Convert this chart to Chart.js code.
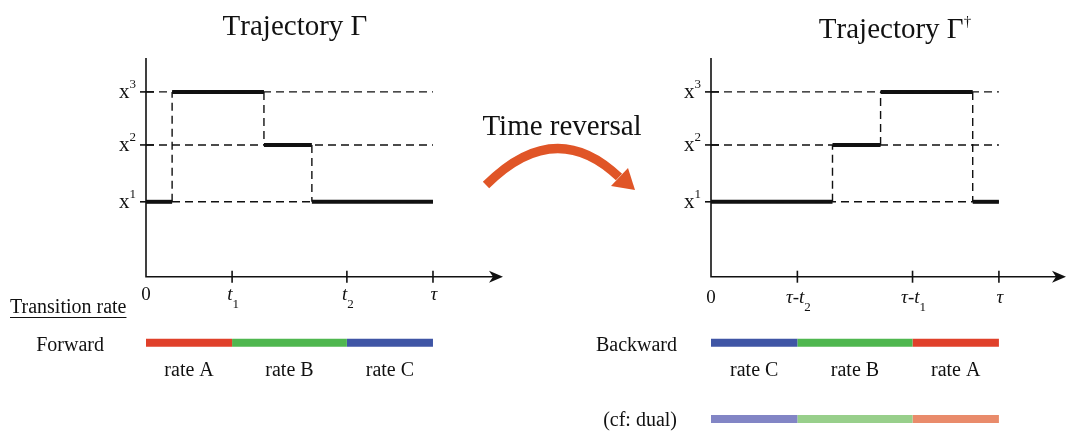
<!DOCTYPE html>
<html>
<head>
<meta charset="utf-8">
<script src="https://cdn.jsdelivr.net/npm/chart.js@4"></script>
<style>
  body { margin: 0; background: #fff; width: 1066px; height: 432px; overflow: hidden; position: relative; }
  canvas { position: absolute; top: 0; }
  #left { left: 0; }
  #right { left: 580px; }
</style>
</head>
<body>
<canvas id="left" width="660" height="432"></canvas>
<canvas id="right" width="486" height="432"></canvas>
<script>
// time runs 0..tau, tau taken as 10
var tau = 10;
var stateNames = ['x^1', 'x^2', 'x^3'];
var stateLevels = [1.37, 2.41, 3.38];

var forwardJumps = [0, 0.91, 4.11, 5.78, 10];
var forwardStates = [0, 2, 1, 0];
var backwardJumps = [0, 4.22, 5.89, 9.09, 10];
var backwardStates = [0, 1, 2, 0];

var forwardTicks = [0, 3, 7, 10];
var forwardTickLabels = ['0', 't_1', 't_2', 'τ'];
var backwardTicks = [0, 3, 7, 10];
var backwardTickLabels = ['0', 'τ-t_2', 'τ-t_1', 'τ'];

var forwardBounds = [0, 3, 7, 10];
var forwardRates = ['rate A', 'rate B', 'rate C'];
var forwardColors = ['#e0402a', '#4fb74f', '#3f55a5'];
var backwardBounds = [0, 3, 7, 10];
var backwardRates = ['rate C', 'rate B', 'rate A'];
var backwardColors = ['#3f55a5', '#4fb74f', '#e0402a'];
var dualColors = ['#8285c5', '#98cf8b', '#e98b6b'];

var SERIF = '"Liberation Serif", "Times New Roman", serif';
var RATE_ROW = -1.21;
var DUAL_ROW = -2.60;
var DASH = [8, 5];

// thick horizontal pieces + dashed vertical jumps
function trajSets(jumps, states) {
  var sets = [];
  for (var i = 0; i < states.length; i++) {
    var L = stateLevels[states[i]];
    sets.push({data: [{x: jumps[i], y: L}, {x: jumps[i + 1], y: L}],
      borderColor: '#111', borderWidth: 4, borderCapStyle: 'butt', pointRadius: 0});
    if (i > 0) {
      sets.push({data: [{x: jumps[i], y: stateLevels[states[i - 1]]}, {x: jumps[i], y: L}],
        borderColor: '#111', borderWidth: 1.4, borderDash: DASH, pointRadius: 0});
    }
  }
  return sets;
}

function barSets(bounds, colors, row) {
  return colors.map(function (c, i) {
    return {data: [{x: bounds[i], y: row}, {x: bounds[i + 1], y: row}],
      borderColor: c, borderWidth: 8, borderCapStyle: 'butt', pointRadius: 0};
  });
}

// small math text: _c subscript, ^c superscript, t/τ italic
function drawMath(ctx, s, x, y, size, align, italic, supScale, supRise) {
  var runs = [];
  for (var i = 0; i < s.length; i++) {
    var c = s[i];
    if (c === '_') { runs.push({t: s[++i], k: 'sub'}); continue; }
    if (c === '^') { runs.push({t: s[++i], k: 'sup'}); continue; }
    runs.push({t: c, k: (italic && /[tτ]/.test(c)) ? 'it' : 'rm'});
  }
  function font(r) {
    var sz = (r.k === 'sub' || r.k === 'sup') ? Math.round(size * (supScale || 0.68)) : size;
    return (r.k === 'it' ? 'italic ' : '') + sz + 'px ' + SERIF;
  }
  var w = 0;
  runs.forEach(function (r) { ctx.font = font(r); r.w = ctx.measureText(r.t).width; w += r.w; });
  var cx = align === 'center' ? x - w / 2 : (align === 'right' ? x - w : x);
  ctx.textAlign = 'left';
  runs.forEach(function (r) {
    ctx.font = font(r);
    var dy = r.k === 'sub' ? size * 0.42 : (r.k === 'sup' ? -size * (supRise || 0.45) : 0);
    ctx.fillText(r.t, cx, y + dy);
    cx += r.w;
  });
}

function makeChart(id, o) {
  var datasets = stateLevels.map(function (L) {
    return {data: [{x: 0, y: L}, {x: tau, y: L}], borderColor: '#111', borderWidth: 1.4,
      borderDash: DASH, pointRadius: 0};
  });
  datasets = datasets.concat(trajSets(o.jumps, o.states));
  datasets = datasets.concat(barSets(o.bounds, o.colors, RATE_ROW));
  if (o.dual) datasets = datasets.concat(barSets(o.bounds, o.dual, DUAL_ROW));

  var deco = {
    id: 'deco',
    afterDatasetsDraw: function (chart) {
      var ctx = chart.ctx, xs = chart.scales.x, ys = chart.scales.y;
      var x0 = xs.getPixelForValue(0), y0 = ys.getPixelForValue(0);
      var yTop = chart.chartArea.top, xEnd = chart.chartArea.right;
      ctx.save();
      ctx.strokeStyle = '#111'; ctx.fillStyle = '#111'; ctx.lineWidth = 1.6;
      // axes
      ctx.beginPath();
      ctx.moveTo(x0, yTop); ctx.lineTo(x0, y0); ctx.lineTo(xEnd - 10, y0);
      ctx.stroke();
      ctx.beginPath();
      ctx.moveTo(xEnd, y0); ctx.lineTo(xEnd - 14, y0 - 6); ctx.lineTo(xEnd - 10, y0);
      ctx.lineTo(xEnd - 14, y0 + 6); ctx.closePath(); ctx.fill();
      // x ticks + labels
      ctx.textBaseline = 'alphabetic';
      o.ticks.forEach(function (t, i) {
        var px = xs.getPixelForValue(t);
        if (t > 0) { ctx.beginPath(); ctx.moveTo(px, y0 - 6); ctx.lineTo(px, y0 + 6); ctx.stroke(); }
        drawMath(ctx, o.tickLabels[i], px + (t > 0 ? 1 : 0), y0 + o.tickDy, 19, 'center', true);
      });
      // y ticks + state labels
      stateLevels.forEach(function (L, i) {
        var py = ys.getPixelForValue(L);
        ctx.beginPath(); ctx.moveTo(x0 - 6, py); ctx.lineTo(x0 + 8, py); ctx.stroke();
        drawMath(ctx, stateNames[i], x0 - 10, py + 6, 21, 'right', false, 0.6, 0.45);
      });
      // title
      drawMath(ctx, o.title, o.titleX - chart.canvas.offsetLeft, o.titleY, 29, 'center', false, 0.5, 0.42);
      // rate labels under bars
      ctx.font = '20px ' + SERIF; ctx.textAlign = 'center';
      var rowY = ys.getPixelForValue(RATE_ROW);
      o.rates.forEach(function (r, i) {
        ctx.fillText(r, xs.getPixelForValue((o.bounds[i] + o.bounds[i + 1]) / 2), rowY + 33);
      });
      // row labels
      ctx.textAlign = 'right';
      ctx.font = '20px ' + SERIF;
      ctx.fillText(o.rowLabel, x0 - o.rowGap, rowY + 8);
      if (o.dual) ctx.fillText('(cf: dual)', x0 - o.rowGap, ys.getPixelForValue(DUAL_ROW) + 7);
      if (o.header) {
        ctx.textAlign = 'left';
        ctx.fillText(o.header, 10, 313);
        var hw = ctx.measureText(o.header).width;
        ctx.lineWidth = 1; ctx.beginPath(); ctx.moveTo(10, 317.5); ctx.lineTo(10 + hw, 317.5); ctx.stroke();
      }
      if (o.middle) {
        ctx.textAlign = 'center';
        ctx.font = '29px ' + SERIF;
        ctx.fillText('Time reversal', 562, 135);
        ctx.strokeStyle = '#e05527'; ctx.fillStyle = '#e05527'; ctx.lineWidth = 9;
        ctx.beginPath(); ctx.moveTo(486, 185); ctx.quadraticCurveTo(555, 116, 619, 177); ctx.stroke();
        ctx.beginPath(); ctx.moveTo(635, 190); ctx.lineTo(611, 186); ctx.lineTo(628, 168); ctx.closePath(); ctx.fill();
      }
      ctx.restore();
    }
  };

  return new Chart(document.getElementById(id), {
    type: 'line',
    data: {datasets: datasets},
    options: {
      responsive: false, animation: false,
      layout: {padding: o.padding},
      scales: {
        x: {type: 'linear', display: false, min: 0, max: o.xMax},
        y: {type: 'linear', display: false, min: -2.84, max: 4}
      },
      plugins: {legend: {display: false}, tooltip: {enabled: false}}
    },
    plugins: [deco]
  });
}

makeChart('left', {
  jumps: forwardJumps, states: forwardStates, ticks: forwardTicks, tickLabels: forwardTickLabels,
  bounds: forwardBounds, rates: forwardRates, colors: forwardColors,
  title: 'Trajectory Γ', titleX: 295, titleY: 35, tickDy: 23,
  rowLabel: 'Forward', rowGap: 42, header: 'Transition rate', middle: true,
  padding: {left: 146, right: 157, top: 58, bottom: 0}, xMax: 12.44
});
makeChart('right', {
  jumps: backwardJumps, states: backwardStates, ticks: backwardTicks, tickLabels: backwardTickLabels,
  bounds: backwardBounds, rates: backwardRates, colors: backwardColors, dual: dualColors,
  title: 'Trajectory Γ^†', titleX: 895, titleY: 38, tickDy: 26,
  rowLabel: 'Backward', rowGap: 34,
  padding: {left: 131, right: 0, top: 58, bottom: 0}, xMax: 12.33
});
</script>
</body>
</html>
